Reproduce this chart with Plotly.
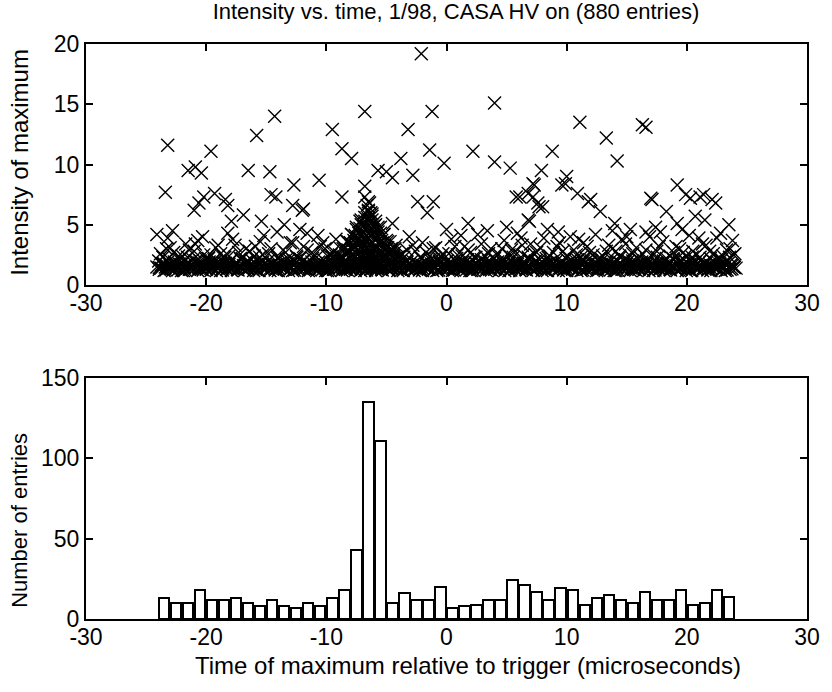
import plotly.graph_objects as go

# ---------------- data ----------------
title_text = "Intensity vs. time, 1/98, CASA HV on (880 entries)"

# isolated high-intensity points
out_x = [-23.2, -23.4, -24.1, -23.2, -21.5, -20.9, -20.4, -19.6, -21.0, -20.6, -20.2, -19.3,
         -18.4, -18.2, -17.9, -16.9, -15.8, -14.3, -16.5, -14.7, -14.6, -14.2, -15.4, -12.7,
         -12.8, -12.0, -11.9, -10.6, -9.5, -8.7, -7.9, -8.7, -11.6, -13.5,
         -2.1, -6.8, -1.2, 4.0, -3.2, 11.1, 13.3, 14.2, -3.8, -1.4, -0.2, 2.2, 4.0, 5.3,
         8.8, 7.9, 10.0, 9.6, 10.9, -5.7, -5.0, -4.5, -2.8, 7.3, 5.8, 6.8, 7.6, 8.0,
         -6.8, -6.8, -2.4, -1.1, 12.0, 12.8, 6.9, 1.8, -1.6, -4.5, -6.4, 14.0,
         16.3, 16.6, 9.9, 17.0, 17.1, 19.2, 19.9, 20.3, 21.4, 22.4, 23.5, 18.3, 19.2, 17.4,
         20.7, 21.5, 15.3, 16.6, 21.1, 22.1, 7.2, 6.1, 7.2, 7.7, 6.8, 11.8]
out_y = [11.6, 7.7, 4.2, 3.9, 9.5, 9.8, 9.3, 11.1, 6.2, 6.8, 7.3, 7.6,
         7.1, 6.6, 5.3, 5.8, 12.4, 14.0, 9.5, 9.4, 7.5, 7.3, 5.3, 8.3,
         6.6, 6.2, 6.3, 8.7, 12.9, 11.3, 10.5, 7.3, 4.3, 5.0,
         19.2, 14.4, 14.4, 15.1, 12.9, 13.5, 12.2, 10.3, 10.5, 11.2, 10.1, 11.1, 10.2, 9.7,
         11.1, 9.5, 9.0, 8.3, 7.6, 9.5, 9.4, 8.9, 9.1, 8.3, 7.3, 7.6, 6.8, 6.5,
         8.2, 7.3, 6.9, 6.9, 7.1, 6.1, 5.3, 5.1, 6.0, 5.1, 6.8, 5.1,
         13.3, 13.1, 8.4, 7.2, 7.1, 8.3, 7.5, 7.2, 7.5, 6.8, 5.0, 6.1, 5.1, 4.8,
         5.7, 5.4, 4.6, 4.4, 7.3, 7.1, 8.4, 7.3, 7.3, 6.5, 5.4, 6.9]

# dense low-intensity band (estimated), first layer
band_x = [-24.1, -23.9, -23.7, -23.5, -23.4, -23.2, -23.1,
          -23.0, -22.8, -22.6, -22.5, -22.3, -22.1,
          -21.9, -21.8, -21.6, -21.4, -21.3, -21.1,
          -20.9, -20.7, -20.5, -20.4, -20.2, -20.1,
          -20.0, -19.8, -19.6, -19.5, -19.3, -19.1,
          -18.9, -18.8, -18.6, -18.4, -18.3, -18.1,
          -17.9, -17.7, -17.5, -17.4, -17.2, -17.1,
          -17.0, -16.8, -16.6, -16.5, -16.3, -16.1,
          -15.9, -15.8, -15.6, -15.4, -15.3, -15.1,
          -14.9, -14.7, -14.5, -14.4, -14.2, -14.1,
          -14.0, -13.8, -13.6, -13.5, -13.3, -13.1,
          -12.9, -12.8, -12.6, -12.4, -12.3, -12.1,
          -11.9, -11.7, -11.5, -11.4, -11.2, -11.1,
          -11.0, -10.8, -10.6, -10.5, -10.3, -10.1,
          -9.9, -9.8, -9.6, -9.4, -9.3, -9.1,
          -8.9, -8.7, -8.5, -8.4, -8.2, -8.1,
          -8.0, -7.8, -7.6, -7.5, -7.3, -7.1,
          -6.9, -6.8, -6.6, -6.4, -6.3, -6.1,
          -5.9, -5.7, -5.5, -5.4, -5.2, -5.1,
          -5.0, -4.8, -4.6, -4.5, -4.3, -4.1,
          -3.9, -3.8, -3.6, -3.4, -3.3, -3.1,
          -2.9, -2.7, -2.5, -2.4, -2.2, -2.1,
          -2.0, -1.8, -1.6, -1.5, -1.3, -1.1,
          -0.9, -0.8, -0.6, -0.4, -0.3, -0.1,
          0.1, 0.3, 0.5, 0.6, 0.8, 0.9,
          1.0, 1.2, 1.4, 1.5, 1.7, 1.9,
          2.1, 2.2, 2.4, 2.6, 2.7, 2.9,
          3.1, 3.3, 3.5, 3.6, 3.8, 3.9,
          4.0, 4.2, 4.4, 4.5, 4.7, 4.9,
          5.1, 5.2, 5.4, 5.6, 5.7, 5.9,
          6.1, 6.3, 6.5, 6.6, 6.8, 6.9,
          7.0, 7.2, 7.4, 7.5, 7.7, 7.9,
          8.1, 8.2, 8.4, 8.6, 8.7, 8.9,
          9.1, 9.3, 9.5, 9.6, 9.8, 9.9,
          10.0, 10.2, 10.4, 10.5, 10.7, 10.9,
          11.1, 11.2, 11.4, 11.6, 11.7, 11.9,
          12.1, 12.3, 12.5, 12.6, 12.8, 12.9,
          13.0, 13.2, 13.4, 13.5, 13.7, 13.9,
          14.1, 14.2, 14.4, 14.6, 14.7, 14.9,
          15.1, 15.3, 15.5, 15.6, 15.8, 15.9,
          16.0, 16.2, 16.4, 16.5, 16.7, 16.9,
          17.1, 17.2, 17.4, 17.6, 17.7, 17.9,
          18.1, 18.3, 18.5, 18.6, 18.8, 18.9,
          19.0, 19.2, 19.4, 19.5, 19.7, 19.9,
          20.1, 20.2, 20.4, 20.6, 20.7, 20.9,
          21.1, 21.3, 21.5, 21.6, 21.8, 21.9,
          22.0, 22.2, 22.4, 22.5, 22.7, 22.9,
          23.1, 23.2, 23.4, 23.6, 23.7, 23.9, 24.1]
band_y = [1.5, 1.3, 1.7, 1.2, 1.5, 1.9, 1.4,
          1.6, 1.2, 1.4, 1.8, 1.3, 1.7,
          1.2, 1.5, 1.8, 1.3, 1.6, 2.1,
          1.4, 1.2, 2.0, 1.3, 1.7, 1.5,
          1.3, 1.7, 1.2, 1.5, 1.9, 1.4,
          1.6, 1.2, 1.4, 1.8, 1.3, 1.7,
          1.2, 1.5, 1.8, 1.3, 1.6, 2.1,
          1.4, 1.2, 2.0, 1.3, 1.7, 1.5,
          1.3, 1.7, 1.2, 1.5, 1.9, 1.4,
          1.6, 1.2, 1.4, 1.8, 1.3, 1.7,
          1.2, 1.5, 1.8, 1.3, 1.6, 2.1,
          1.4, 1.2, 2.0, 1.3, 1.7, 1.5,
          1.3, 1.7, 1.2, 1.5, 1.9, 1.4,
          1.6, 1.2, 1.4, 1.8, 1.3, 1.7,
          1.2, 1.5, 1.8, 1.3, 1.6, 2.1,
          1.4, 1.2, 2.0, 1.3, 1.7, 1.5,
          1.3, 1.7, 1.2, 1.5, 1.9, 1.4,
          1.6, 1.2, 1.4, 1.8, 1.3, 1.7,
          1.2, 1.5, 1.8, 1.3, 1.6, 2.1,
          1.4, 1.2, 2.0, 1.3, 1.7, 1.5,
          1.3, 1.7, 1.2, 1.5, 1.9, 1.4,
          1.6, 1.2, 1.4, 1.8, 1.3, 1.7,
          1.2, 1.5, 1.8, 1.3, 1.6, 2.1,
          1.4, 1.2, 2.0, 1.3, 1.7, 1.5,
          1.3, 1.7, 1.2, 1.5, 1.9, 1.4,
          1.6, 1.2, 1.4, 1.8, 1.3, 1.7,
          1.2, 1.5, 1.8, 1.3, 1.6, 2.1,
          1.4, 1.2, 2.0, 1.3, 1.7, 1.5,
          1.3, 1.7, 1.2, 1.5, 1.9, 1.4,
          1.6, 1.2, 1.4, 1.8, 1.3, 1.7,
          1.2, 1.5, 1.8, 1.3, 1.6, 2.1,
          1.4, 1.2, 2.0, 1.3, 1.7, 1.5,
          1.3, 1.7, 1.2, 1.5, 1.9, 1.4,
          1.6, 1.2, 1.4, 1.8, 1.3, 1.7,
          1.2, 1.5, 1.8, 1.3, 1.6, 2.1,
          1.4, 1.2, 2.0, 1.3, 1.7, 1.5,
          1.3, 1.7, 1.2, 1.5, 1.9, 1.4,
          1.6, 1.2, 1.4, 1.8, 1.3, 1.7,
          1.2, 1.5, 1.8, 1.3, 1.6, 2.1,
          1.4, 1.2, 2.0, 1.3, 1.7, 1.5,
          1.3, 1.7, 1.2, 1.5, 1.9, 1.4,
          1.6, 1.2, 1.4, 1.8, 1.3, 1.7,
          1.2, 1.5, 1.8, 1.3, 1.6, 2.1,
          1.4, 1.2, 2.0, 1.3, 1.7, 1.5,
          1.3, 1.7, 1.2, 1.5, 1.9, 1.4,
          1.6, 1.2, 1.4, 1.8, 1.3, 1.7,
          1.2, 1.5, 1.8, 1.3, 1.6, 2.1,
          1.4, 1.2, 2.0, 1.3, 1.7, 1.5, 1.4]

# dense low-intensity band (estimated), second layer
band2_x = [-23.95, -23.75, -23.55, -23.35, -23.15, -22.85, -22.65, -22.45, -22.25, -22.05,
           -21.95, -21.75, -21.55, -21.35, -21.15, -20.85, -20.65, -20.45, -20.25, -20.05,
           -19.95, -19.75, -19.55, -19.35, -19.15, -18.85, -18.65, -18.45, -18.25, -18.05,
           -17.95, -17.75, -17.55, -17.35, -17.15, -16.85, -16.65, -16.45, -16.25, -16.05,
           -15.95, -15.75, -15.55, -15.35, -15.15, -14.85, -14.65, -14.45, -14.25, -14.05,
           -13.95, -13.75, -13.55, -13.35, -13.15, -12.85, -12.65, -12.45, -12.25, -12.05,
           -11.95, -11.75, -11.55, -11.35, -11.15, -10.85, -10.65, -10.45, -10.25, -10.05,
           -9.95, -9.75, -9.55, -9.35, -9.15, -8.85, -8.65, -8.45, -8.25, -8.05,
           -7.95, -7.75, -7.55, -7.35, -7.15, -6.85, -6.65, -6.45, -6.25, -6.05,
           -5.95, -5.75, -5.55, -5.35, -5.15, -4.85, -4.65, -4.45, -4.25, -4.05,
           -3.95, -3.75, -3.55, -3.35, -3.15, -2.85, -2.65, -2.45, -2.25, -2.05,
           -1.95, -1.75, -1.55, -1.35, -1.15, -0.85, -0.65, -0.45, -0.25, -0.05,
           0.05, 0.25, 0.45, 0.65, 0.85, 1.15, 1.35, 1.55, 1.75, 1.95,
           2.05, 2.25, 2.45, 2.65, 2.85, 3.15, 3.35, 3.55, 3.75, 3.95,
           4.05, 4.25, 4.45, 4.65, 4.85, 5.15, 5.35, 5.55, 5.75, 5.95,
           6.05, 6.25, 6.45, 6.65, 6.85, 7.15, 7.35, 7.55, 7.75, 7.95,
           8.05, 8.25, 8.45, 8.65, 8.85, 9.15, 9.35, 9.55, 9.75, 9.95,
           10.05, 10.25, 10.45, 10.65, 10.85, 11.15, 11.35, 11.55, 11.75, 11.95,
           12.05, 12.25, 12.45, 12.65, 12.85, 13.15, 13.35, 13.55, 13.75, 13.95,
           14.05, 14.25, 14.45, 14.65, 14.85, 15.15, 15.35, 15.55, 15.75, 15.95,
           16.05, 16.25, 16.45, 16.65, 16.85, 17.15, 17.35, 17.55, 17.75, 17.95,
           18.05, 18.25, 18.45, 18.65, 18.85, 19.15, 19.35, 19.55, 19.75, 19.95,
           20.05, 20.25, 20.45, 20.65, 20.85, 21.15, 21.35, 21.55, 21.75, 21.95,
           22.05, 22.25, 22.45, 22.65, 22.85, 23.15, 23.35, 23.55, 23.75, 23.95]
band2_y = [2.0, 1.4, 1.8, 1.25, 2.2, 1.35, 1.9, 1.5, 2.1, 1.2,
           1.8, 1.25, 2.3, 1.6, 1.45, 2.0, 1.4, 1.8, 1.25, 2.2,
           1.35, 1.9, 1.5, 2.1, 1.2, 1.8, 1.25, 2.3, 1.6, 1.45,
           2.0, 1.4, 1.8, 1.25, 2.2, 1.35, 1.9, 1.5, 2.1, 1.2,
           1.8, 1.25, 2.3, 1.6, 1.45, 2.0, 1.4, 1.8, 1.25, 2.2,
           1.35, 1.9, 1.5, 2.1, 1.2, 1.8, 1.25, 2.3, 1.6, 1.45,
           2.0, 1.4, 1.8, 1.25, 2.2, 1.35, 1.9, 1.5, 2.1, 1.2,
           1.8, 1.25, 2.3, 1.6, 1.45, 2.0, 1.4, 1.8, 1.25, 2.2,
           1.35, 1.9, 1.5, 2.1, 1.2, 1.8, 1.25, 2.3, 1.6, 1.45,
           2.0, 1.4, 1.8, 1.25, 2.2, 1.35, 1.9, 1.5, 2.1, 1.2,
           1.8, 1.25, 2.3, 1.6, 1.45, 2.0, 1.4, 1.8, 1.25, 2.2,
           1.35, 1.9, 1.5, 2.1, 1.2, 1.8, 1.25, 2.3, 1.6, 1.45,
           2.0, 1.4, 1.8, 1.25, 2.2, 1.35, 1.9, 1.5, 2.1, 1.2,
           1.8, 1.25, 2.3, 1.6, 1.45, 2.0, 1.4, 1.8, 1.25, 2.2,
           1.35, 1.9, 1.5, 2.1, 1.2, 1.8, 1.25, 2.3, 1.6, 1.45,
           2.0, 1.4, 1.8, 1.25, 2.2, 1.35, 1.9, 1.5, 2.1, 1.2,
           1.8, 1.25, 2.3, 1.6, 1.45, 2.0, 1.4, 1.8, 1.25, 2.2,
           1.35, 1.9, 1.5, 2.1, 1.2, 1.8, 1.25, 2.3, 1.6, 1.45,
           2.0, 1.4, 1.8, 1.25, 2.2, 1.35, 1.9, 1.5, 2.1, 1.2,
           1.8, 1.25, 2.3, 1.6, 1.45, 2.0, 1.4, 1.8, 1.25, 2.2,
           1.35, 1.9, 1.5, 2.1, 1.2, 1.8, 1.25, 2.3, 1.6, 1.45,
           2.0, 1.4, 1.8, 1.25, 2.2, 1.35, 1.9, 1.5, 2.1, 1.2,
           1.8, 1.25, 2.3, 1.6, 1.45, 2.0, 1.4, 1.8, 1.25, 2.2,
           1.35, 1.9, 1.5, 2.1, 1.2, 1.8, 1.25, 2.3, 1.6, 1.45]

# dense low-intensity band (estimated), third layer
band3_x = [-23.9, -23.55, -23.25, -22.9, -22.55, -22.25, -21.9, -21.55, -21.25,
           -20.9, -20.55, -20.25, -19.9, -19.55, -19.25, -18.9, -18.55, -18.25,
           -17.9, -17.55, -17.25, -16.9, -16.55, -16.25, -15.9, -15.55, -15.25,
           -14.9, -14.55, -14.25, -13.9, -13.55, -13.25, -12.9, -12.55, -12.25,
           -11.9, -11.55, -11.25, -10.9, -10.55, -10.25, -9.9, -9.55, -9.25,
           -8.9, -8.55, -8.25, -7.9, -7.55, -7.25, -6.9, -6.55, -6.25,
           -5.9, -5.55, -5.25, -4.9, -4.55, -4.25, -3.9, -3.55, -3.25,
           -2.9, -2.55, -2.25, -1.9, -1.55, -1.25, -0.9, -0.55, -0.25,
           0.1, 0.45, 0.75, 1.1, 1.45, 1.75, 2.1, 2.45, 2.75,
           3.1, 3.45, 3.75, 4.1, 4.45, 4.75, 5.1, 5.45, 5.75,
           6.1, 6.45, 6.75, 7.1, 7.45, 7.75, 8.1, 8.45, 8.75,
           9.1, 9.45, 9.75, 10.1, 10.45, 10.75, 11.1, 11.45, 11.75,
           12.1, 12.45, 12.75, 13.1, 13.45, 13.75, 14.1, 14.45, 14.75,
           15.1, 15.45, 15.75, 16.1, 16.45, 16.75, 17.1, 17.45, 17.75,
           18.1, 18.45, 18.75, 19.1, 19.45, 19.75, 20.1, 20.45, 20.75,
           21.1, 21.45, 21.75, 22.1, 22.45, 22.75, 23.1, 23.45, 23.75]
band3_y = [1.45, 1.7, 1.55, 1.6, 1.4, 1.75, 1.5, 1.8, 1.35,
           1.45, 1.7, 1.55, 1.6, 1.4, 1.75, 1.5, 1.8, 1.35,
           1.45, 1.7, 1.55, 1.6, 1.4, 1.75, 1.5, 1.8, 1.35,
           1.45, 1.7, 1.55, 1.6, 1.4, 1.75, 1.5, 1.8, 1.35,
           1.45, 1.7, 1.55, 1.6, 1.4, 1.75, 1.5, 1.8, 1.35,
           1.45, 1.7, 1.55, 1.6, 1.4, 1.75, 1.5, 1.8, 1.35,
           1.45, 1.7, 1.55, 1.6, 1.4, 1.75, 1.5, 1.8, 1.35,
           1.45, 1.7, 1.55, 1.6, 1.4, 1.75, 1.5, 1.8, 1.35,
           1.45, 1.7, 1.55, 1.6, 1.4, 1.75, 1.5, 1.8, 1.35,
           1.45, 1.7, 1.55, 1.6, 1.4, 1.75, 1.5, 1.8, 1.35,
           1.45, 1.7, 1.55, 1.6, 1.4, 1.75, 1.5, 1.8, 1.35,
           1.45, 1.7, 1.55, 1.6, 1.4, 1.75, 1.5, 1.8, 1.35,
           1.45, 1.7, 1.55, 1.6, 1.4, 1.75, 1.5, 1.8, 1.35,
           1.45, 1.7, 1.55, 1.6, 1.4, 1.75, 1.5, 1.8, 1.35,
           1.45, 1.7, 1.55, 1.6, 1.4, 1.75, 1.5, 1.8, 1.35,
           1.45, 1.7, 1.55, 1.6, 1.4, 1.75, 1.5, 1.8, 1.35]

# intermediate intensities (estimated)
mid_x = [-23.8, -23.0, -22.3, -21.7, -21.0, -20.3, -19.6, -19.0, -18.6, -17.8, -17.3, -16.7,
         -16.0, -15.5, -14.8, -14.1, -13.6, -13.0, -12.5, -11.9, -11.2, -10.7, -10.1, -9.6,
         -9.2, -4.2, -3.7, -3.1, -2.6, -2.0, -1.4, -0.9, -0.3, 0.4, 0.9, 1.5, 2.0, 2.6,
         3.2, 3.7, 4.3, 4.8, 5.4, 5.9, 6.4, 7.0, 7.5, 8.1, 8.6, 9.2, 9.7, 10.3, 10.8,
         11.4, 11.9, 12.4, 13.0, 13.5, 14.1, 14.6, 15.2, 15.8, 16.3, 16.9, 17.5, 18.0,
         18.6, 19.1, 19.7, 20.2, 20.8, 21.3, 21.9, 22.5, 23.0, 23.6, 24.0,
         -22.8, -20.7, -18.2, -15.2, -12.2, -10.3, 0.0, 1.2, 3.4, 5.0, 6.2, 8.4, 9.3,
         11.0, 13.8, 15.0, 17.8, 19.6, 21.0, 22.8, 23.8]
mid_y = [2.6, 3.1, 2.4, 3.4, 2.8, 4.0, 2.5, 3.3, 2.3, 3.8, 2.7, 3.0,
         2.4, 3.6, 2.6, 4.4, 2.9, 3.5, 2.4, 3.2, 2.7, 4.1, 3.0, 2.5,
         3.8, 3.3, 2.6, 4.0, 2.8, 3.5, 2.4, 3.1, 2.6, 3.8, 2.5, 3.2, 2.7, 4.2,
         2.4, 3.0, 2.6, 3.7, 2.9, 4.3, 2.5, 3.4, 2.7, 3.9, 2.4, 3.2, 2.8, 4.0, 2.5,
         3.5, 2.7, 4.2, 2.4, 3.3, 2.8, 3.8, 2.5, 3.1, 2.6, 4.0, 2.8, 3.6,
         2.4, 3.2, 2.7, 4.1, 2.5, 3.4, 2.8, 3.9, 2.4, 3.0, 2.6,
         4.5, 3.7, 4.3, 4.1, 4.6, 3.5, 4.6, 4.1, 4.5, 4.8, 3.9, 4.6, 4.4,
         3.8, 4.5, 4.0, 4.4, 4.6, 3.9, 4.3, 3.7]
mid2_x = [-23.6, -23.3, -22.7, -22.0, -21.4, -20.9, -20.2, -19.8, -19.2, -18.8,
          -18.1, -17.6, -17.0, -16.4, -15.9, -15.3, -14.6, -14.0, -13.4, -12.8,
          -12.2, -11.6, -11.0, -10.5, -9.9, -9.4,
          -3.9, -3.3, -2.8, -2.2, -1.7, -1.1, -0.6, 0.2, 0.7, 1.3,
          1.8, 2.3, 2.9, 3.5, 4.0, 4.6, 5.2, 5.7, 6.3, 6.8,
          7.3, 7.8, 8.3, 8.9, 9.4, 10.0, 10.6, 11.2, 11.7, 12.2,
          12.7, 13.3, 13.8, 14.4, 14.9, 15.5, 16.1, 16.6, 17.2, 17.7,
          18.3, 18.9, 19.4, 19.9, 20.5, 21.1, 21.6, 22.2, 22.7, 23.3, 23.9]
mid2_y = [2.3, 3.0, 2.7, 2.4, 2.9, 3.4, 2.5, 2.2, 3.1, 2.6,
          2.4, 3.3, 2.2, 2.8, 3.2, 2.5, 3.0, 2.3, 2.7, 3.5,
          2.2, 2.9, 2.5, 3.2, 2.4, 2.8,
          2.4, 2.9, 3.3, 2.3, 2.7, 3.0, 2.2, 2.6, 3.2, 2.4,
          2.9, 2.3, 3.4, 2.6, 2.2, 3.0, 2.5, 2.8, 3.3, 2.3,
          2.6, 3.1, 2.2, 2.7, 3.5, 2.4, 2.9, 2.3, 3.2, 2.5,
          2.2, 2.8, 3.0, 2.4, 3.4, 2.6, 2.3, 2.9, 2.5, 3.2,
          2.2, 2.7, 3.0, 2.4, 2.8, 2.3, 3.3, 2.6, 2.2, 2.9, 2.5]

# burst of entries around -6 microseconds (estimated)
blob_x = [-8.8, -8.6, -8.4, -8.2, -8.0, -7.9, -7.8, -7.7, -7.6, -7.5, -7.4, -7.3, -7.2, -7.1,
          -7.0, -7.0, -6.9, -6.9, -6.8, -6.8, -6.7, -6.7, -6.6, -6.6, -6.5, -6.5, -6.5,
          -6.4, -6.4, -6.3, -6.3, -6.2, -6.2, -6.1, -6.1, -6.0, -6.0, -5.9, -5.9, -5.8,
          -5.8, -5.7, -5.7, -5.6, -5.6, -5.5, -5.5, -5.4, -5.3, -5.2, -5.2, -5.1, -5.0,
          -4.9, -4.8, -4.6, -4.5, -4.3, -7.5, -8.5, -6.6, -6.3, -7.2, -6.5]
blob_y = [2.3, 3.0, 2.6, 3.6, 2.2, 4.2, 3.0, 2.5, 3.5, 4.6, 2.2, 3.9, 2.8, 5.0,
          3.3, 2.3, 4.3, 1.6, 5.6, 2.7, 3.7, 1.4, 4.8, 2.2, 6.2, 3.2, 1.8,
          5.2, 2.5, 4.1, 1.5, 5.7, 3.5, 2.1, 4.6, 3.0, 1.7, 5.0, 2.4, 3.9,
          1.4, 4.4, 2.9, 3.4, 1.9, 4.8, 2.3, 3.7, 2.7, 4.2, 1.6, 3.1, 2.2,
          3.6, 2.6, 3.0, 2.3, 2.7, 1.6, 1.9, 6.6, 6.0, 5.3, 6.9]
blob2_x = [-9.2, -8.9, -8.6, -8.3, -8.0, -7.7, -7.4, -7.1, -6.8, -6.5, -6.2, -5.9, -5.6,
           -5.3, -5.0, -4.7, -4.4, -4.1, -3.8,
           -8.8, -8.5, -8.2, -7.9, -7.6, -7.3, -7.0, -6.7, -6.4, -6.1, -5.8, -5.5, -5.2,
           -4.9, -4.6, -4.3,
           -8.3, -8.0, -7.7, -7.4, -7.1, -6.8, -6.5, -6.2, -5.9, -5.6, -5.3, -5.0, -4.7,
           -7.9, -7.6, -7.3, -7.0, -6.7, -6.4, -6.1, -5.8, -5.5, -5.2,
           -7.5, -7.2, -6.9, -6.6, -6.3, -6.0, -5.7,
           -7.1, -6.8, -6.5, -6.2, -5.9,
           -6.8, -6.5, -6.2,
           -7.8, -7.2, -6.6, -6.0, -5.4, -4.8]
blob2_y = [2.4, 2.5, 2.3, 2.5, 2.4, 2.3, 2.5, 2.4, 2.3, 2.5, 2.4, 2.3, 2.5,
           2.4, 2.3, 2.5, 2.4, 2.3, 2.4,
           3.0, 3.1, 2.9, 3.0, 3.1, 2.9, 3.0, 3.1, 2.9, 3.0, 3.1, 2.9, 3.0,
           3.1, 2.9, 3.0,
           3.6, 3.5, 3.7, 3.6, 3.5, 3.7, 3.6, 3.5, 3.7, 3.6, 3.5, 3.7, 3.6,
           4.2, 4.1, 4.3, 4.2, 4.1, 4.3, 4.2, 4.1, 4.3, 4.2,
           4.8, 4.7, 4.9, 4.8, 4.7, 4.9, 4.8,
           5.4, 5.3, 5.5, 5.4, 5.3,
           6.0, 6.1, 5.9,
           1.5, 1.6, 1.5, 1.6, 1.5, 1.6]

# histogram of times (1 microsecond bins)
bin_centers = [-23.5, -22.5, -21.5, -20.5, -19.5, -18.5, -17.5, -16.5, -15.5, -14.5, -13.5, -12.5,
               -11.5, -10.5, -9.5, -8.5, -7.5, -6.5, -5.5, -4.5, -3.5, -2.5, -1.5, -0.5,
               0.5, 1.5, 2.5, 3.5, 4.5, 5.5, 6.5, 7.5, 8.5, 9.5, 10.5, 11.5,
               12.5, 13.5, 14.5, 15.5, 16.5, 17.5, 18.5, 19.5, 20.5, 21.5, 22.5, 23.5]
hist_counts = [13, 10, 10, 18, 12, 12, 13, 10, 8, 12, 8, 7,
               10, 8, 13, 18, 43, 135, 111, 10, 16, 12, 12, 20,
               7, 8, 9, 12, 12, 24, 21, 17, 12, 19, 18, 9,
               13, 15, 12, 10, 17, 12, 12, 18, 9, 10, 18, 14]

x_tick_vals = [-30, -20, -10, 0, 10, 20, 30]
x_tick_text = ["-30", "-20", "-10", "0", "10", "20", "30"]
top_y_ticks = [0, 5, 10, 15, 20]
bot_y_ticks = [0, 50, 100, 150]

for a, b in [(out_x, out_y), (band_x, band_y), (band2_x, band2_y), (band3_x, band3_y),
             (mid_x, mid_y), (mid2_x, mid2_y), (blob_x, blob_y), (blob2_x, blob2_y)]:
    assert len(a) == len(b), (len(a), len(b))
assert len(bin_centers) == len(hist_counts)

# ---------------- figure ----------------
FONT = "Liberation Sans, Arial, sans-serif"
W, H = 832, 692
ml, mr, mt, mb = 86, 16, 44, 73
plot_w = W - ml - mr
plot_h = H - mt - mb
top_lo = (H - mb - 285) / plot_h
bot_hi = (H - mb - 378) / plot_h

all_x = out_x + mid_x + mid2_x + blob_x + blob2_x + band_x + band2_x + band3_x
all_y = out_y + mid_y + mid2_y + blob_y + blob2_y + band_y + band2_y + band3_y

fig = go.Figure()
fig.add_trace(go.Scatter(
    x=all_x, y=all_y, mode="markers", xaxis="x", yaxis="y",
    marker=dict(symbol="x-thin", size=13, color="black",
                line=dict(color="black", width=1.4)),
    showlegend=False, hoverinfo="skip"))
fig.add_trace(go.Bar(
    x=bin_centers, y=hist_counts, xaxis="x2", yaxis="y2", width=0.86,
    marker=dict(color="white", line=dict(color="black", width=2)),
    showlegend=False))

axis_common = dict(showgrid=False, zeroline=False, showline=True, linecolor="black",
                   linewidth=2, mirror="ticks", ticks="inside", ticklen=7, tickwidth=1.5,
                   tickcolor="black", tickfont=dict(family=FONT, size=23, color="black"))

fig.update_layout(
    width=W, height=H, margin=dict(l=ml, r=mr, t=mt, b=mb),
    paper_bgcolor="white", plot_bgcolor="white", bargap=0,
    font=dict(family=FONT, color="black"),
    title=dict(text=title_text, x=456 / W, xanchor="center",
               y=1 - 11 / H, yanchor="middle", yref="container",
               font=dict(family=FONT, size=22, color="black")),
    xaxis=dict(domain=[0, 1], anchor="y", range=[-30, 30], tickvals=x_tick_vals,
               ticktext=x_tick_text, ticklabelstandoff=-4, **axis_common),
    yaxis=dict(domain=[top_lo, 1], anchor="x", range=[0, 20], tickvals=top_y_ticks, **axis_common),
    xaxis2=dict(domain=[0, 1], anchor="y2", range=[-30, 30], tickvals=x_tick_vals,
                ticktext=x_tick_text, ticklabelstandoff=-4, **axis_common),
    yaxis2=dict(domain=[0, bot_hi], anchor="x2", range=[0, 150], tickvals=bot_y_ticks, **axis_common),
    annotations=[
        dict(text="Intensity of maximum", xref="paper", yref="paper",
             x=-(ml - 18) / plot_w, y=(H - mb - 162) / plot_h, textangle=-90,
             showarrow=False, xanchor="center", yanchor="middle",
             font=dict(family=FONT, size=24, color="black")),
        dict(text="Number of entries", xref="paper", yref="paper",
             x=-(ml - 18) / plot_w, y=(H - mb - 520) / plot_h, textangle=-90,
             showarrow=False, xanchor="center", yanchor="middle",
             font=dict(family=FONT, size=22, color="black")),
        dict(text="Time of maximum relative to trigger (microseconds)", xref="paper", yref="paper",
             x=(473 - ml) / plot_w, y=-(665 - (H - mb)) / plot_h,
             showarrow=False, xanchor="center", yanchor="middle",
             font=dict(family=FONT, size=24, color="black")),
    ],
)

fig.write_html("out.html", config={"displayModeBar": False},
               post_script="document.body.style.margin='0';")
